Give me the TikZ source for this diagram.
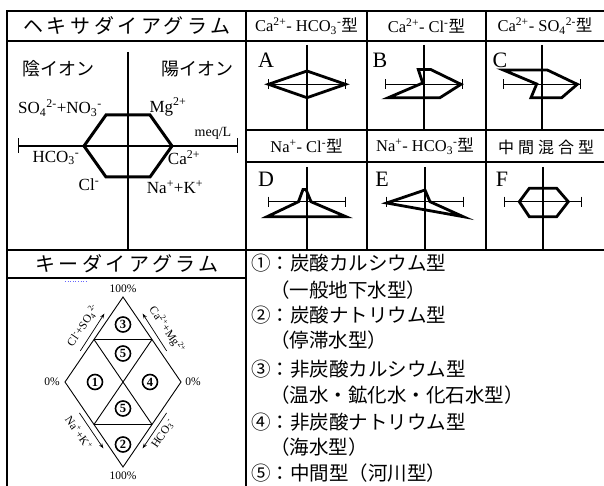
\documentclass[tikz,border=0pt]{standalone}
\usepackage{fontspec}
\setmainfont{Liberation Serif}
\newfontfamily\jp{Noto Sans CJK JP}
\newfontfamily\jptitle[LetterSpace=18]{Noto Sans CJK JP}
\newfontfamily\jpmid[LetterSpace=25]{Noto Sans CJK JP}
\usetikzlibrary{arrows.meta,calc}
\newcommand{\fsz}[1]{\fontsize{#1}{#1}\selectfont}
\newcommand{\supx}[1]{\textsuperscript{#1}}
\newcommand{\subx}[1]{\textsubscript{#1}}
\tikzset{
  grid/.style={line width=1.8pt, line cap=rect},
  ax/.style={line width=1.1pt},
  bighex/.style={line width=3pt, line join=miter},
  smallhex/.style={line width=2.8pt, line join=miter},
  keyline/.style={line width=0.9pt},
  keyarr/.style={line width=0.7pt, -{Stealth[length=5pt,width=3.5pt]}},
  txt/.style={inner sep=0pt, outer sep=0pt},
  hdr/.style={txt, font=\fsz{16.5}},
  title/.style={txt, font=\jptitle\fsz{20}},
  midtitle/.style={txt, font=\jpmid\fsz{16}},
  ion/.style={txt, font=\fsz{17}},
  jion/.style={txt, font=\jp\fsz{18}},
  letr/.style={txt, font=\fsz{22}},
  pct/.style={txt, font=\fsz{11.5}},
  circnum/.style={circle, draw, line width=1.6pt, inner sep=0pt, minimum size=15pt, font=\fsz{12.5}\bfseries},
  legend/.style={txt, anchor=west, font=\jp\fsz{19.5}},
}
\newcommand{\smallaxes}[4]{%
  \draw[ax] (#1,#3) -- (#1,#4);
  \draw[ax] (#1-38.5,#2) -- (#1+38.5,#2);
  \draw[ax] (#1-38.5,#2-5) -- (#1-38.5,#2+5);
  \draw[ax] (#1+38.5,#2-5) -- (#1+38.5,#2+5);
}
\begin{document}
\begin{tikzpicture}[x=1pt,y=-1pt]
\useasboundingbox (0,0) rectangle (604,486);
% ---------- table grid ----------
\draw[grid] (7,11) -- (608,11);
\draw[grid] (7,41) -- (608,41);
\draw[grid] (246,130) -- (608,130);
\draw[grid] (246,162) -- (608,162);
\draw[grid] (7,250) -- (608,250);
\draw[grid] (7,278) -- (246,278);
\draw[grid] (7,11) -- (7,492);
\draw[grid] (246,11) -- (246,492);
\draw[grid] (367,11) -- (367,250);
\draw[grid] (486,11) -- (486,250);
% ---------- headers ----------
\node[title] (t1) at (127,26) {ヘキサダイアグラム};
\node[hdr] (hA) at (306.5,26) {Ca\supx{2+}- HCO\subx{3}\supx{-}{\jp 型}};
\node[hdr] (hB) at (426.5,26) {Ca\supx{2+}- Cl\supx{-}{\jp 型}};
\node[hdr] (hC) at (545,26) {Ca\supx{2+}- SO\subx{4}\supx{2-}{\jp 型}};
\node[hdr] (hD) at (306.5,146) {Na\supx{+}- Cl\supx{-}{\jp 型}};
\node[hdr] (hE) at (425,146) {Na\supx{+}- HCO\subx{3}\supx{-}{\jp 型}};
\node[midtitle] (hF) at (546,147) {中間混合型};
\node[title] (t2) at (127,264) {キーダイアグラム};
% ---------- big hexadiagram ----------
\draw[ax] (128,52) -- (128,250);
\draw[ax] (18.5,146) -- (237.5,146);
\draw[ax] (18.5,138.5) -- (18.5,153.5);
\draw[ax] (237.5,138.5) -- (237.5,153.5);
\draw[bighex] (84,146) -- (106,115) -- (150,115) -- (172,146) -- (150,177) -- (106,177) -- cycle;
\node[jion] (an) at (58,69) {陰イオン};
\node[jion] (ca) at (197,69) {陽イオン};
\node[ion] (so4) at (60,108) {SO\subx{4}\supx{2-}+NO\subx{3}\supx{-}};
\node[ion] (mg) at (168,107) {Mg\supx{2+}};
\node[txt, font=\fsz{14}] (meq) at (213,133) {meq/L};
\node[ion] (hco) at (56,158) {HCO\subx{3}\supx{-}};
\node[ion] (ca2) at (184,158) {Ca\supx{2+}};
\node[ion] (cl) at (89,185) {Cl\supx{-}};
\node[ion] (na) at (175,187) {Na\supx{+}+K\supx{+}};
% ---------- small diagrams ----------
\node[letr] (lA) at (266,60) {A};
\node[letr] (lB) at (380,60) {B};
\node[letr] (lC) at (500,60) {C};
\node[letr] (lD) at (266,179) {D};
\node[letr] (lE) at (382,179) {E};
\node[letr] (lF) at (502,179) {F};
\smallaxes{307}{84.3}{45}{130}
\smallaxes{424}{84.3}{45}{130}
\smallaxes{542}{84.3}{45}{130}
\smallaxes{307}{201.7}{167}{250}
\smallaxes{425}{201.7}{167}{250}
\smallaxes{543}{201.7}{167}{250}
\draw[smallhex] (268.5,84.3) -- (307,71) -- (345.5,84.3) -- (307,97.7) -- cycle;
\draw[smallhex] (418.3,69.5) -- (430.7,69.5) -- (461,84.3) -- (440,97.7) -- (388.3,97.7) -- (422.7,83) -- cycle;
\draw[smallhex] (503.3,70) -- (547.3,70) -- (577.3,84.3) -- (561.7,97.7) -- (531,97.7) -- (536.7,84) -- cycle;
\draw[smallhex] (303,189.5) -- (306,189.5) -- (311,201.7) -- (346,216.7) -- (267,216.7) -- (298.5,201.7) -- cycle;
\draw[smallhex] (425,190) -- (430,201.7) -- (463.3,216.7) -- (386.7,203) -- cycle;
\draw[smallhex] (529.3,188.3) -- (556.7,188.3) -- (568.3,201.7) -- (556.7,216.7) -- (529.3,216.7) -- (519.3,201.7) -- cycle;
% ---------- key diagram ----------
\coordinate (T) at (123,297);
\coordinate (L) at (65,382);
\coordinate (R) at (181,382);
\coordinate (B) at (123,467);
\coordinate (a1) at (94,339.5);
\coordinate (a2) at (152,339.5);
\coordinate (b1) at (94,424.5);
\coordinate (b2) at (152,424.5);
\draw[keyline] (T) -- (R) -- (B) -- (L) -- cycle;
\draw[keyline] (a1) -- (a2);
\draw[keyline] (b1) -- (b2);
\draw[keyline] (a1) -- (b2);
\draw[keyline] (a2) -- (b1);
\draw[keyarr] (80.3,350.9) -- (104.4,313.6);
\draw[keyarr] (166.6,350.9) -- (142.6,313.6);
\draw[keyarr] (79.4,412.9) -- (103.4,448.4);
\draw[keyarr] (166.6,412.9) -- (142.6,448.4);
\node[pct] (p1) at (123,289) {100\%};
\node[pct] (p2) at (123,476) {100\%};
\node[pct] (p3) at (52,382) {0\%};
\node[pct] (p4) at (193,382) {0\%};
\node[pct, rotate=55.7] (s1) at (82.7,325.5) {Cl\supx{-}+SO\subx{4}\supx{2-}};
\node[pct, rotate=-55.7] (s2) at (167,329.9) {Ca\supx{2+}+Mg\supx{2+}};
\node[pct, rotate=-55.7] (s3) at (79,432.5) {Na\supx{+}+K\supx{+}};
\node[pct, rotate=55.7] (s4) at (163.4,434.1) {HCO\subx{3}\supx{-}};
\node[circnum] (c3) at (123,324.5) {3};
\node[circnum] (c5a) at (123,353.5) {5};
\node[circnum] (c1) at (95,382) {1};
\node[circnum] (c4) at (150,382) {4};
\node[circnum] (c5b) at (123,408.5) {5};
\node[circnum] (c2) at (123,444.5) {2};
\draw[blue!60, line width=0.6pt, dotted] (65,281) -- (88,281);
% ---------- legend ----------
\node[legend] (g1) at (251,263) {①：炭酸カルシウム型};
\node[legend] (g1b) at (270,290) {（一般地下水型）};
\node[legend] (g2) at (251,315) {②：炭酸ナトリウム型};
\node[legend] (g2b) at (270,340) {（停滞水型）};
\node[legend] (g3) at (251,369) {③：非炭酸カルシウム型};
\node[legend] (g3b) at (270,395) {（温水・鉱化水・化石水型）};
\node[legend] (g4) at (251,422) {④：非炭酸ナトリウム型};
\node[legend] (g4b) at (270,447) {（海水型）};
\node[legend] (g5) at (251,473) {⑤：中間型（河川型）};
\end{tikzpicture}
\end{document}
